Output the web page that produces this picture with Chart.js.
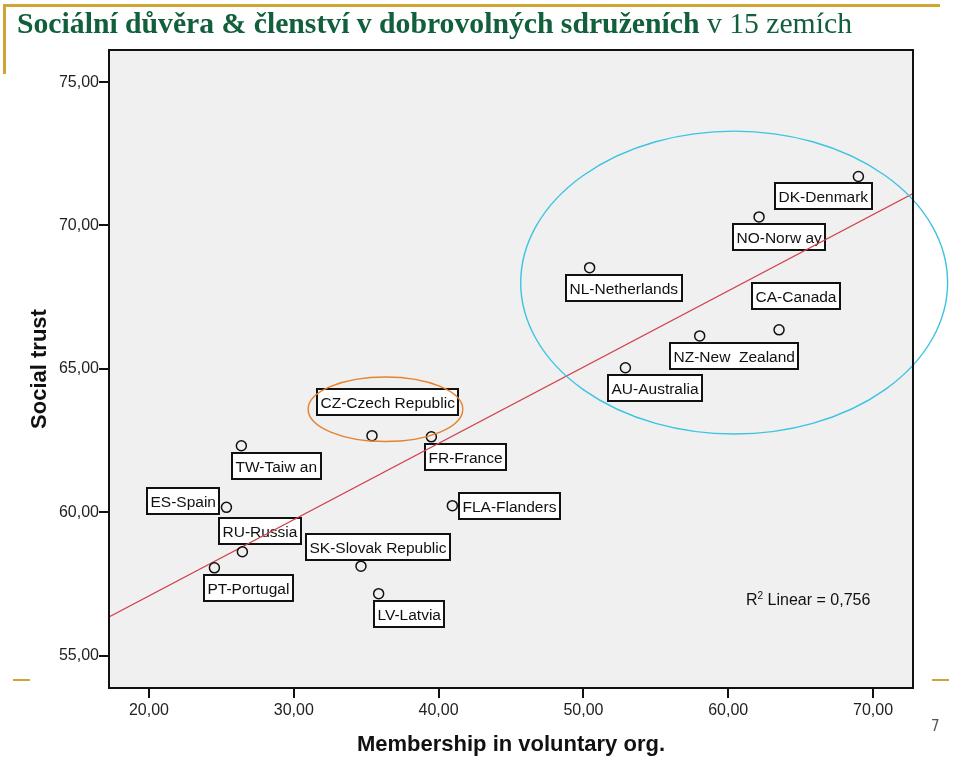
<!DOCTYPE html>
<html lang="cs">
<head>
<meta charset="utf-8">
<title>Sociální důvěra & členství v dobrovolných sdruženích</title>
<script src="https://cdn.jsdelivr.net/npm/chart.js@4/dist/chart.umd.min.js"></script>
<style>
  body { margin: 0; background: #fff; }
  #slide { position: relative; width: 960px; height: 757px; overflow: hidden; }
  #chart { position: absolute; left: 0; top: 0; }
  .gold { position: absolute; background: #cfa535; }
  #title {
    position: absolute; left: 17px; top: 8px; white-space: nowrap;
    font-family: "Liberation Serif", "DejaVu Serif", serif; font-size: 30px; line-height: 30px;
    color: #11603b; transform-origin: 0 0;
  }
  #title b { font-weight: bold; }
  #r2 {
    position: absolute; left: 746px; top: 592px; font-family: Arial, "Liberation Sans", sans-serif;
    font-size: 16px; line-height: 16px; color: #111; white-space: nowrap;
  }
  #r2 sup { font-size: 10px; vertical-align: 6px; line-height: 0; }
  #page {
    position: absolute; left: 931px; top: 717px; font-family: "Liberation Sans Narrow", "DejaVu Sans Condensed", sans-serif;
    font-size: 15px; color: #555;
  }
</style>
</head>
<body>
<div id="slide">
  <canvas id="chart" width="960" height="757"></canvas>
  <div class="gold" style="left:3px; top:4px; width:937px; height:3px;"></div>
  <div class="gold" style="left:3px; top:4px; width:3px; height:70px;"></div>
  <div class="gold" style="left:13px; top:679px; width:17px; height:2px;"></div>
  <div class="gold" style="left:932px; top:679px; width:17px; height:2px;"></div>
  <div id="title"><b>Sociální důvěra &amp; členství v dobrovolných sdruženích</b> v 15 zemích</div>
  <div id="r2">R<sup>2</sup> Linear = 0,756</div>
  <div id="page">7</div>
</div>
<script>
const countries = [
  "DK-Denmark", "NO-Norw ay", "NL-Netherlands", "CA-Canada", "NZ-New  Zealand",
  "AU-Australia", "CZ-Czech Republic", "FR-France", "TW-Taiw an", "ES-Spain",
  "FLA-Flanders", "RU-Russia", "SK-Slovak Republic", "PT-Portugal", "LV-Latvia"
];
const membership = [68.99, 62.13, 50.43, 63.51, 58.03, 52.90, 35.40, 39.50, 26.38, 25.35, 40.95, 26.45, 34.64, 24.52, 35.86];
const trust = [71.71, 70.30, 68.53, 66.36, 66.15, 65.04, 62.67, 62.63, 62.32, 60.17, 60.23, 58.62, 58.12, 58.06, 57.16];

const xTicks = [20, 30, 40, 50, 60, 70];
const yTicks = [55, 60, 65, 70, 75];
const xMin = 17.24, xMax = 72.76;
const yMin = 53.87, yMax = 76.12;

// fit line (R2 = 0,756)
const fitSlope = 0.266;
const fitIntercept = 51.76;

// label box offsets from each point, in pixels
const labelOffsets = [
  [-83, 7], [-26, 7], [-24, 7], [-27, -47], [-30, 7],
  [-17, 7], [-55, -47], [-6, 7], [-9, 7], [-79, -19],
  [7, -13], [-23, -34], [-55, -32], [-10, 7], [-5, 7]
];

// hand drawn highlight ellipses, in data units
const highlights = [
  { cx: 60.41, cy: 68.01, rx: 14.74, ry: 5.28, color: "#3cc3e2" },
  { cx: 36.33, cy: 63.59, rx: 5.34, ry: 1.126, color: "#e5822f" }
];

const sansFont = 'Arial, "Liberation Sans", sans-serif';

function formatTick(v) {
  return v.toFixed(2).replace(".", ",");
}

const plotFrame = {
  id: "plotFrame",
  beforeDraw(chart) {
    const { ctx, chartArea: a } = chart;
    ctx.save();
    ctx.fillStyle = "#f0f0f0";
    ctx.fillRect(a.left, a.top, a.right - a.left, a.bottom - a.top);
    ctx.restore();
  },
  afterDraw(chart) {
    const { ctx, chartArea: a } = chart;
    ctx.save();
    ctx.strokeStyle = "#111";
    ctx.lineWidth = 2;
    ctx.strokeRect(a.left, a.top, a.right - a.left, a.bottom - a.top);
    ctx.restore();
  }
};

const boxLabels = {
  id: "boxLabels",
  beforeDatasetsDraw(chart) {
    const { ctx, scales: { x, y } } = chart;
    ctx.save();
    ctx.font = "15.5px " + sansFont;
    countries.forEach((name, i) => {
      const px = x.getPixelForValue(membership[i]);
      const py = y.getPixelForValue(trust[i]);
      const bx = Math.round(px + labelOffsets[i][0]);
      const by = Math.round(py + labelOffsets[i][1]);
      const w = Math.round(ctx.measureText(name).width + 7);
      ctx.fillStyle = "#fff";
      ctx.fillRect(bx, by, w, 26);
      ctx.strokeStyle = "#111";
      ctx.lineWidth = 2;
      ctx.strokeRect(bx, by, w, 26);
      ctx.fillStyle = "#111";
      ctx.fillText(name, bx + 3.5, by + 19);
    });
    ctx.restore();
  }
};

const ellipses = {
  id: "ellipses",
  afterDatasetsDraw(chart) {
    const { ctx, scales: { x, y } } = chart;
    ctx.save();
    highlights.forEach((e) => {
      const cx = x.getPixelForValue(e.cx);
      const cy = y.getPixelForValue(e.cy);
      const rx = Math.abs(x.getPixelForValue(e.cx + e.rx) - cx);
      const ry = Math.abs(y.getPixelForValue(e.cy + e.ry) - cy);
      ctx.beginPath();
      ctx.ellipse(cx, cy, rx, ry, 0, 0, Math.PI * 2);
      ctx.strokeStyle = e.color;
      ctx.lineWidth = 1.4;
      ctx.stroke();
    });
    ctx.restore();
  }
};

const points = membership.map((m, i) => ({ x: m, y: trust[i] }));

new Chart(document.querySelector("#chart"), {
  type: "scatter",
  data: {
    datasets: [
      {
        data: points,
        pointRadius: 5,
        pointBorderWidth: 1.5,
        pointBorderColor: "#111",
        pointBackgroundColor: "rgba(0,0,0,0)",
        showLine: false
      },
      {
        type: "line",
        data: [
          { x: xMin, y: fitIntercept + fitSlope * xMin },
          { x: xMax, y: fitIntercept + fitSlope * xMax }
        ],
        borderColor: "#d2434f",
        borderWidth: 1.2,
        pointRadius: 0,
        fill: false
      }
    ]
  },
  options: {
    responsive: false,
    animation: false,
    devicePixelRatio: 1,
    events: [],
    layout: { padding: { top: 50, right: 47, left: 0, bottom: 0 } },
    plugins: {
      legend: { display: false },
      tooltip: { enabled: false }
    },
    scales: {
      x: {
        type: "linear",
        min: xMin,
        max: xMax,
        afterBuildTicks: (s) => { s.ticks = xTicks.map((v) => ({ value: v })); },
        afterFit: (s) => { s.height = 69; },
        border: { display: false },
        grid: { drawOnChartArea: false, tickLength: 10, color: "#111", lineWidth: 2 },
        ticks: {
          padding: 3,
          color: "#222",
          autoSkip: false,
          maxRotation: 0,
          font: { family: sansFont, size: 16 },
          callback: (v) => formatTick(v)
        },
        title: {
          display: true,
          text: "Membership in voluntary org.",
          color: "#111",
          font: { family: sansFont, size: 22, weight: "bold" },
          padding: { top: 0, bottom: -1 }
        }
      },
      y: {
        type: "linear",
        min: yMin,
        max: yMax,
        afterBuildTicks: (s) => { s.ticks = yTicks.map((v) => ({ value: v })); },
        afterFit: (s) => { s.width = 109; },
        border: { display: false },
        grid: { drawOnChartArea: false, tickLength: 10, color: "#111", lineWidth: 2 },
        ticks: {
          padding: 0,
          color: "#222",
          font: { family: sansFont, size: 16 },
          callback: (v) => formatTick(v)
        },
        title: {
          display: true,
          text: "Social trust",
          color: "#111",
          font: { family: sansFont, size: 22, weight: "bold" },
          padding: { top: 27, bottom: 0 }
        }
      }
    }
  },
  plugins: [plotFrame, boxLabels, ellipses]
});

// squeeze the serif title to the width it has on the slide
const title = document.querySelector("#title");
const tw = title.getBoundingClientRect().width;
title.style.transform = "scaleX(" + (835 / tw) + ")";
</script>
</body>
</html>
